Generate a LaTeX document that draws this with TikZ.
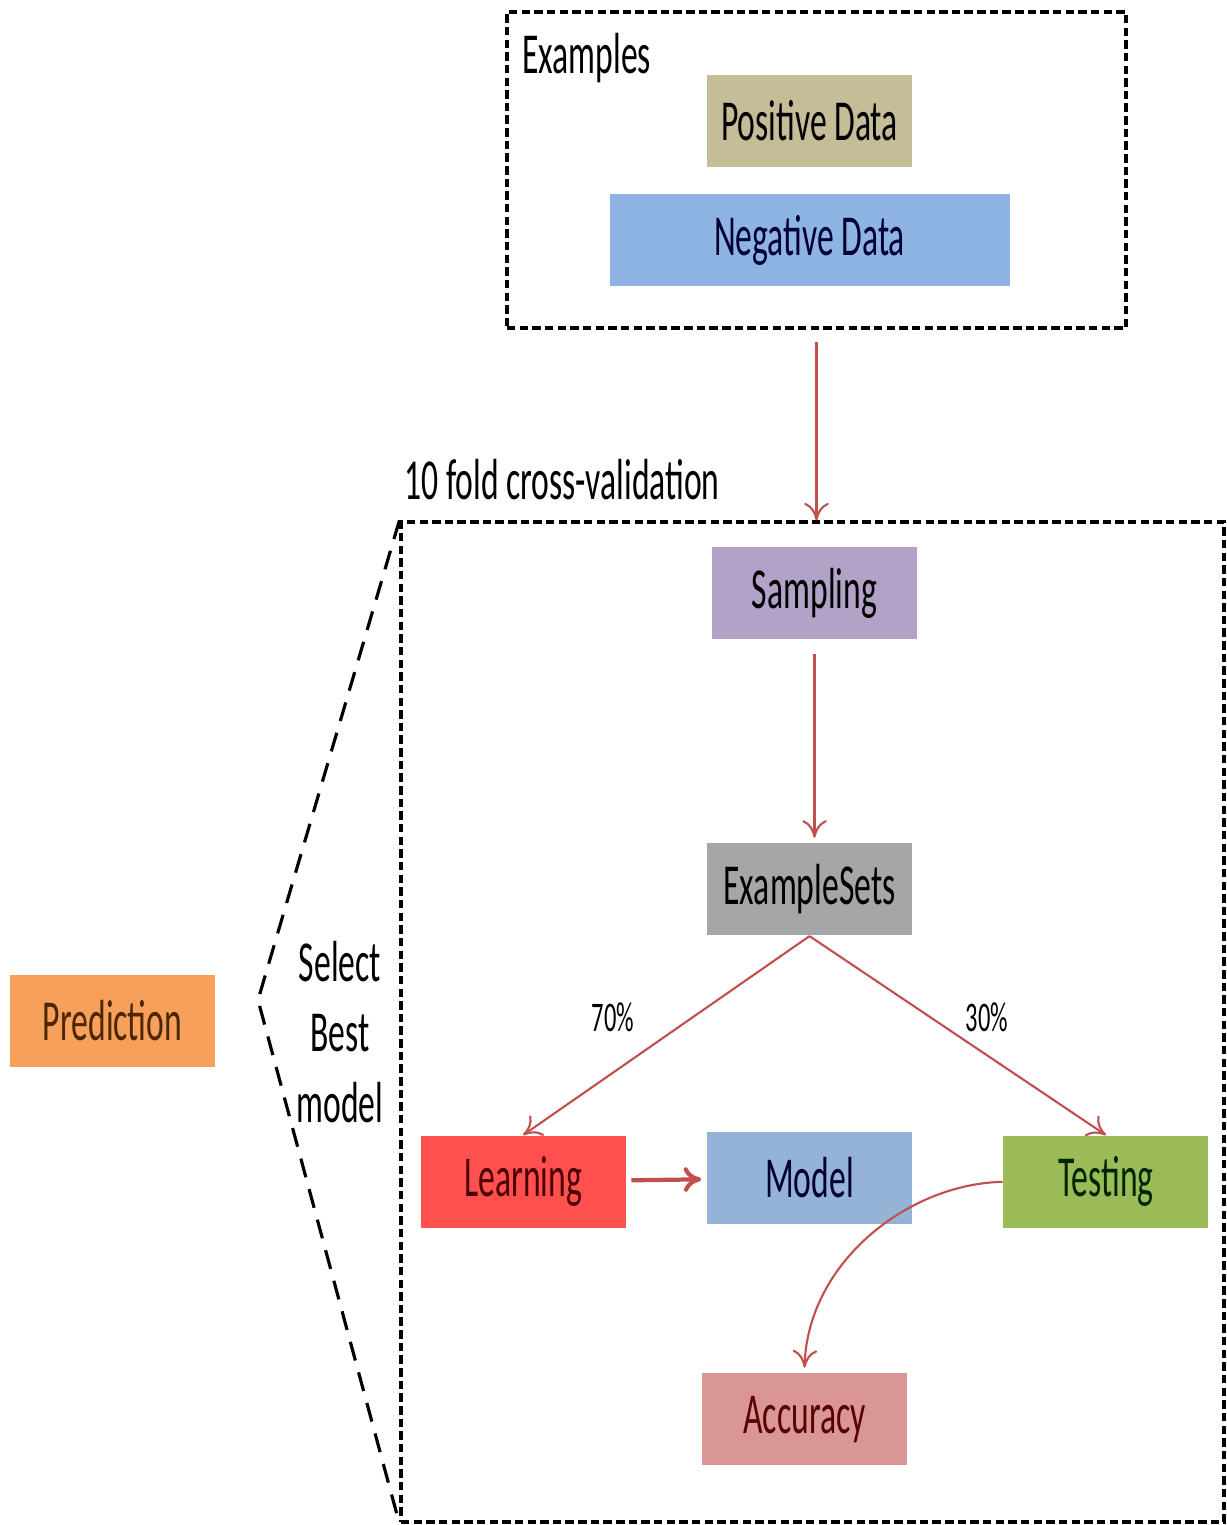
\documentclass[tikz,border=0pt]{standalone}
\usepackage{fontspec}
\setmainfont{Carlito}[FakeStretch=0.58]
\usetikzlibrary{positioning,arrows.meta}

\definecolor{posfill}{HTML}{C4BD97}
\definecolor{negfill}{HTML}{8EB4E3}
\definecolor{sampfill}{HTML}{B3A2C7}
\definecolor{setfill}{HTML}{A6A6A6}
\definecolor{learnfill}{HTML}{FF5050}
\definecolor{modelfill}{HTML}{95B3D7}
\definecolor{testfill}{HTML}{9BBB59}
\definecolor{accfill}{HTML}{D99694}
\definecolor{predfill}{HTML}{F6A05C}
\definecolor{flowred}{HTML}{C0504D}

\begin{document}
\begin{tikzpicture}[auto, node distance=1cm,
                    big text/.style={font=\fontsize{16.5}{20}\selectfont},
                    small text/.style={font=\fontsize{12}{14}\selectfont},
                    main node/.style={rectangle,big text,inner sep=0pt,
                                      minimum width=2.05cm,minimum height=0.92cm},
                    frame/.style={draw,line width=0.9pt,dash pattern=on 2.4pt off 1.2pt,
                                  inner sep=0pt},
                    flow/.style={draw=flowred,line width=0.6pt,-{To[length=5pt,width=7pt]}}]

  \useasboundingbox (0,0) rectangle (12.26,-15.25);

  % examples on top
  \node[frame,minimum width=6.19cm,minimum height=3.16cm] (exframe) at (8.165,-1.70) {};
  \node[big text,anchor=west] (examples) at (5.10,-0.58) {Examples};
  \node[main node,fill=posfill] (positive) at (8.095,-1.21) {Positive Data};
  \node[main node,fill=negfill,text=blue!20!black,minimum width=4cm] (negative) [below=0.26cm of positive] {Negative Data};

  % cross-validation
  \node[frame,minimum width=8.23cm,minimum height=10cm] (cvframe) at (8.125,-10.22) {};
  \node[big text,anchor=west] (cvlabel) at (3.92,-4.80) {10 fold cross-validation};
  \node[main node,fill=sampfill] (sampling) at (8.145,-5.93) {Sampling};
  \node[main node,fill=setfill] (exsets) [below=2.03cm of sampling,xshift=-0.05cm] {ExampleSets};
  \node[main node,fill=modelfill,text=blue!20!black] (model) [below=1.95cm of exsets] {Model};
  \node[main node,fill=learnfill,text=red!30!black] (learning) [left=0.8cm of model,yshift=-0.04cm] {Learning};
  \node[main node,fill=testfill,text=green!15!black] (testing) [right=0.9cm of model,yshift=-0.04cm] {Testing};
  \node[main node,fill=accfill,text=red!35!black] (accuracy) [below=1.48cm of model,xshift=-0.05cm] {Accuracy};

  \draw[flow] ([yshift=-0.12cm]exframe.south) -- (exframe.south |- cvframe.north);
  \draw[flow,shorten <=0.14cm,shorten >=0.05cm] (sampling.south) -- (sampling.south |- exsets.north);
  \draw[flow] (exsets.south) -- node[pos=0.41,anchor=center,xshift=-0.79cm,small text] (seventy) {70\%} (learning.north);
  \draw[flow] (exsets.south) -- node[pos=0.41,anchor=center,xshift=0.56cm,small text] (thirty) {30\%} (testing.north);
  \draw[flow,line width=1.2pt,shorten <=0.05cm,shorten >=0.05cm] (learning) -- (model);
  \draw[flow] (testing.west) .. controls +(-0.95,-0.02) and +(0.03,1.05) .. ([yshift=0.05cm]accuracy.north);

  % best model
  \node[main node,fill=predfill,text=orange!30!black] (prediction) at (1.125,-10.21) {Prediction};
  \coordinate (apex) at (2.58,-10.0);
  \draw[line width=0.9pt,dash pattern=on 5.5pt off 3.5pt] (cvframe.north west) -- (apex) -- (cvframe.south west);
  \node[big text,align=center] (select) at (3.40,-10.32) {Select\\Best\\model};

\end{tikzpicture}
\end{document}
